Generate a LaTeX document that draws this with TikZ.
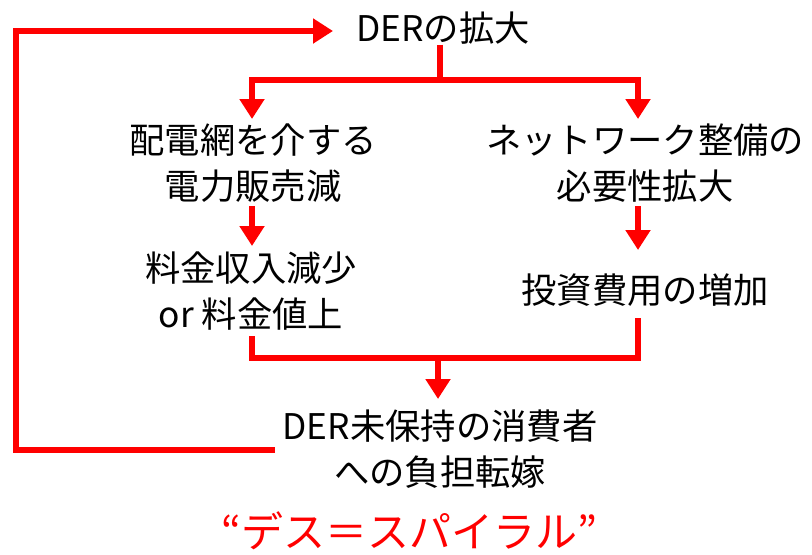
\documentclass[tikz,border=0pt]{standalone}
\usepackage{fontspec}
\setmainfont{Noto Sans CJK JP}
\usetikzlibrary{arrows.meta}
\definecolor{rd}{RGB}{255,0,0}
\tikzset{
  lbl/.style={font=\fontsize{26.5}{34.5}\selectfont, align=center, inner sep=0pt, text=black},
  ln/.style={draw=rd, line width=5.2pt},
  arr/.style={ln, -{Triangle[width=18pt,length=15pt]}},
}
\begin{document}
\begin{tikzpicture}[x=0.75pt,y=-0.75pt]
\useasboundingbox (0,0) rectangle (812,554);
% text nodes
\node[lbl] (der) at (443,28) {DERの拡大};
\node[lbl] (l1) at (253,163) {配電網を介する\\電力販売減};
\node[lbl] (l2) at (251,291) {料金収入減少\\or 料金値上};
\node[lbl] (r1) at (645,163) {ネットワーク整備の\\必要性拡大};
\node[lbl] (r2) at (645,290) {投資費用の増加};
\node[lbl] (b) at (440,449) {DER未保持の消費者\\への負担転嫁};
\node[font=\fontsize{31.5}{36}\selectfont, text=rd, inner sep=0pt] (t) at (409,531) {“デス＝スパイラル”};
% junctions
\coordinate (j1) at (440,80);
\coordinate (jl) at (252,80);
\coordinate (jr) at (638,80);
\coordinate (tl1) at (252,119);
\coordinate (tr1) at (638,119);
\coordinate (sl1) at (252,206);
\coordinate (tl2) at (252,246);
\coordinate (sr1) at (638,206);
\coordinate (tr2) at (638,250);
\coordinate (sl2) at (252,336);
\coordinate (sr2) at (638,318);
\coordinate (bl) at (252,358);
\coordinate (br) at (638,358);
\coordinate (jb) at (438,358);
\coordinate (tb) at (438,399);
\coordinate (fb1) at (275,450);
\coordinate (fb2) at (16,450);
\coordinate (fb3) at (16,31);
\coordinate (fb4) at (333,31);
% connectors
\draw[ln] (der.south -| j1) -- (j1);
\draw[ln, line cap=rect] (jl) -- (jr);
\draw[arr] (jl) -- (tl1);
\draw[arr] (jr) -- (tr1);
\draw[arr] (sl1) -- (tl2);
\draw[arr] (sr1) -- (tr2);
\draw[ln, line join=miter] (sl2) -- (bl) -- (br) -- (sr2);
\draw[arr] (jb) -- (tb);
\draw[arr, line join=miter] (fb1) -- (fb2) -- (fb3) -- (fb4);
\end{tikzpicture}
\end{document}
